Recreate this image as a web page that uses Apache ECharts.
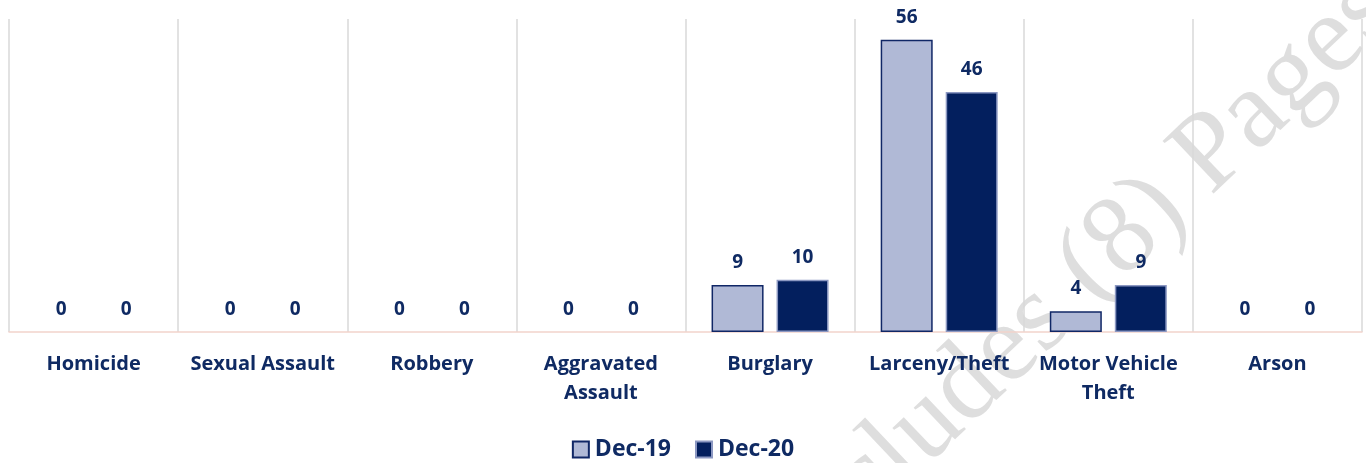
<!DOCTYPE html>
<html>
<head>
<meta charset="utf-8">
<script src="https://cdn.jsdelivr.net/npm/echarts@6/dist/echarts.min.js"></script>
<style>
html,body{margin:0;padding:0;background:#fff;}
#chart{width:1366px;height:463px;}
</style>
</head>
<body>
<div id="chart"></div>
<script>
const categories = ["Homicide", "Sexual Assault", "Robbery", "Aggravated\nAssault", "Burglary", "Larceny/Theft", "Motor Vehicle\nTheft", "Arson"];
const seriesNames = ["Dec-19", "Dec-20"];
const dec19 = [0, 0, 0, 0, 9, 56, 4, 0];
const dec20 = [0, 0, 0, 0, 10, 46, 9, 0];
const watermarkText = "Includes (8) Pages";

const navy = '#0f2a63';
const fontFam = '"Open Sans", Lato, sans-serif';

function items(arr) {
  return arr.map(v => v === 0 ? { value: v, itemStyle: { borderWidth: 0, opacity: 0 }, label: { opacity: 1 } } : v);
}

const chart = echarts.init(document.getElementById('chart'));
const labelCfg = {
  show: true, position: 'top', distance: 13,
  color: navy, fontFamily: fontFam, fontWeight: 'bold', fontSize: 19
};
chart.setOption({
  animation: false,
  backgroundColor: '#fff',
  graphic: [{
    type: 'text', x: 1080, y: 280, rotation: 0.76, z: 0, silent: true,
    style: {
      text: watermarkText, font: '112px "Liberation Serif", "DejaVu Serif", serif',
      fill: 'rgba(200,200,200,0.6)', textAlign: 'center', textVerticalAlign: 'middle'
    }
  }],
  grid: { left: 9, right: 4, top: 19, bottom: 131, containLabel: false },
  legend: {
    top: 433, left: 'center', itemWidth: 16, itemHeight: 16, itemGap: 24, icon: 'rect',
    textStyle: { color: navy, fontFamily: fontFam, fontWeight: 'bold', fontSize: 23, padding: [0, 0, 0, 1] },
    data: seriesNames
  },
  xAxis: {
    type: 'category', data: categories,
    axisLine: { show: true, lineStyle: { color: '#f2d3cc', width: 1.5 } },
    axisTick: { show: false },
    splitLine: { show: true, lineStyle: { color: '#d9d9d9', width: 1.5 } },
    axisLabel: {
      interval: 0, margin: 18, color: navy, fontFamily: fontFam, fontWeight: 'bold',
      fontSize: 20, lineHeight: 29
    }
  },
  yAxis: {
    type: 'value', min: 0, max: 60, show: false, splitLine: { show: false }
  },
  series: [
    {
      name: seriesNames[0], type: 'bar', data: items(dec19), barWidth: 52, barGap: '25%', z: 3,
      itemStyle: { color: '#b0b9d6', borderColor: '#102766', borderWidth: 1.5 },
      label: labelCfg
    },
    {
      name: seriesNames[1], type: 'bar', data: items(dec20), barWidth: 52, z: 3,
      itemStyle: { color: '#031f5e', borderColor: '#8c98c2', borderWidth: 1.5 },
      label: labelCfg
    }
  ]
});
</script>
</body>
</html>
